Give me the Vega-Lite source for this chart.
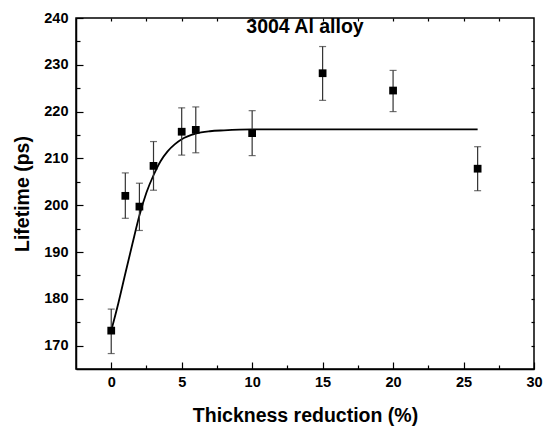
{
  "$schema": "https://vega.github.io/schema/vega-lite/v6.json",
  "width": 458,
  "height": 351,
  "autosize": "none",
  "padding": {"left": 76, "top": 18, "right": 11, "bottom": 59},
  "background": "white",
  "config": {
    "view": {"stroke": "black", "strokeWidth": 1.5},
    "font": "Liberation Sans",
    "axis": {
      "labelFont": "Liberation Sans",
      "labelFontSize": 14.5,
      "labelFontWeight": "bold",
      "labelColor": "black",
      "titleFont": "Liberation Sans",
      "titleFontSize": 19.5,
      "titleFontWeight": "bold",
      "titleColor": "black",
      "domainColor": "black",
      "domainWidth": 1.5,
      "tickColor": "black",
      "tickWidth": 1.2,
      "grid": false
    }
  },
  "title": {
    "text": "3004 Al alloy",
    "font": "Liberation Sans",
    "fontSize": 19.5,
    "fontWeight": "bold",
    "color": "black",
    "anchor": "middle",
    "baseline": "alphabetic",
    "offset": -42
  },
  "datasets": {
    "pts": [
      {"x": 0, "y": 173.2, "lo": 168.3, "hi": 177.8},
      {"x": 1, "y": 202.0, "lo": 197.2, "hi": 206.9},
      {"x": 2, "y": 199.7, "lo": 194.6, "hi": 204.7},
      {"x": 3, "y": 208.4, "lo": 203.2, "hi": 213.6},
      {"x": 5, "y": 215.7, "lo": 210.7, "hi": 220.8},
      {"x": 6, "y": 216.1, "lo": 211.2, "hi": 221.0},
      {"x": 10, "y": 215.4, "lo": 210.6, "hi": 220.2},
      {"x": 15, "y": 228.2, "lo": 222.4, "hi": 233.9},
      {"x": 20, "y": 224.5, "lo": 220.0, "hi": 228.8},
      {"x": 26, "y": 207.8, "lo": 203.1, "hi": 212.5}
    ],
    "fit": [
      {"x": 0, "y": 173.2},
      {"x": 0.5, "y": 179.0},
      {"x": 1, "y": 185.4},
      {"x": 1.5, "y": 191.7},
      {"x": 2, "y": 197.8},
      {"x": 2.5, "y": 202.7},
      {"x": 3, "y": 206.4},
      {"x": 3.5, "y": 209.4},
      {"x": 4, "y": 211.5},
      {"x": 4.5, "y": 213.0},
      {"x": 5, "y": 214.1},
      {"x": 6, "y": 215.3},
      {"x": 7, "y": 215.8},
      {"x": 8, "y": 216.0},
      {"x": 10, "y": 216.2},
      {"x": 15, "y": 216.2},
      {"x": 20, "y": 216.2},
      {"x": 26, "y": 216.2}
    ]
  },
  "layer": [
    {
      "data": {"name": "fit"},
      "mark": {"type": "line", "color": "black", "strokeWidth": 1.8, "interpolate": "monotone"},
      "encoding": {
        "x": {
          "field": "x", "type": "quantitative",
          "scale": {"domain": [-2.5, 30], "nice": false, "zero": false},
          "axis": {
            "orient": "top", "title": null, "labels": false, "domain": false,
            "values": [0, 2.5, 5, 7.5, 10, 12.5, 15, 17.5, 20, 22.5, 25, 27.5],
            "tickSize": -3
          }
        },
        "y": {
          "field": "y", "type": "quantitative",
          "scale": {"domain": [165, 240], "nice": false, "zero": false},
          "axis": {
            "orient": "right", "title": null, "labels": false, "domain": false,
            "values": [170, 175, 180, 185, 190, 195, 200, 205, 210, 215, 220, 225, 230, 235],
            "tickSize": -3
          }
        }
      }
    },
    {
      "data": {"name": "pts"},
      "mark": {"type": "errorbar", "ticks": {"size": 7, "thickness": 1.2, "color": "#333333"}, "rule": {"strokeWidth": 1.2, "color": "#333333"}},
      "encoding": {
        "x": {
          "field": "x", "type": "quantitative",
          "scale": {"domain": [-2.5, 30], "nice": false, "zero": false},
          "axis": {
            "orient": "bottom", "title": "Thickness reduction (%)",
            "values": [0, 2.5, 5, 7.5, 10, 12.5, 15, 17.5, 20, 22.5, 25, 27.5, 30],
            "labelExpr": "datum.value % 5 === 0 ? datum.label : ''",
            "tickSize": {"condition": {"test": "datum.value % 5 === 0", "value": -7}, "value": -4},
            "labelPadding": 13,
            "titlePadding": 15,
            "labelFlush": false,
            "labelOverlap": false
          }
        },
        "y": {
          "field": "lo", "type": "quantitative",
          "scale": {"domain": [165, 240], "nice": false, "zero": false},
          "axis": {
            "orient": "left", "title": "Lifetime (ps)",
            "values": [170, 175, 180, 185, 190, 195, 200, 205, 210, 215, 220, 225, 230, 235, 240],
            "labelExpr": "datum.value % 10 === 0 ? datum.label : ''",
            "tickSize": {"condition": {"test": "datum.value % 10 === 0", "value": -7}, "value": -4},
            "labelPadding": 15,
            "titlePadding": 11,
            "labelFlush": false,
            "labelOverlap": false
          }
        },
        "y2": {"field": "hi"}
      }
    },
    {
      "data": {"name": "pts"},
      "mark": {"type": "square", "size": 60, "filled": true, "color": "black", "opacity": 1},
      "encoding": {
        "x": {"field": "x", "type": "quantitative", "scale": {"domain": [-2.5, 30], "nice": false, "zero": false}, "axis": null},
        "y": {"field": "y", "type": "quantitative", "scale": {"domain": [165, 240], "nice": false, "zero": false}, "axis": null}
      }
    }
  ],
  "resolve": {"axis": {"x": "independent", "y": "independent"}}
}
